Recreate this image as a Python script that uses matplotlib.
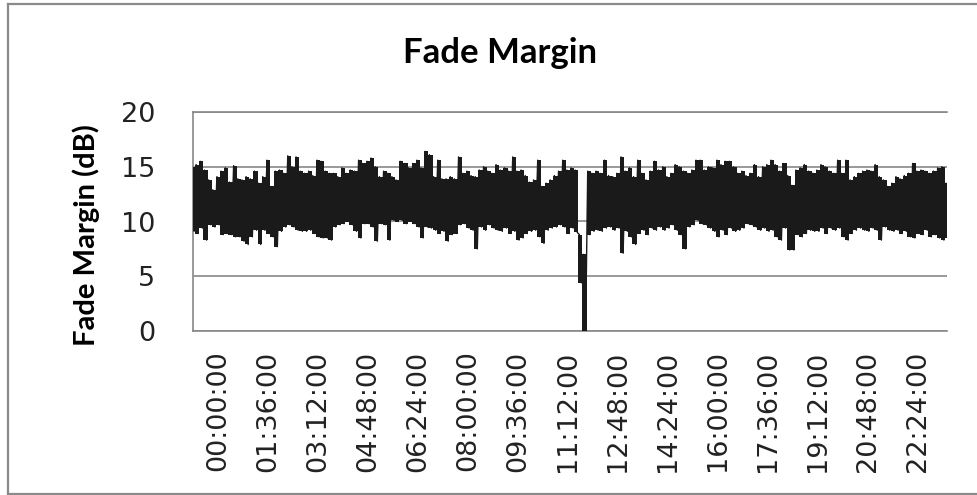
import matplotlib
matplotlib.use("Agg")
import matplotlib.pyplot as plt
from matplotlib.lines import Line2D

# ---- data (minutes relative to 00:00:00, sampled every 8 minutes) ----
start_min = -48
step_min = 8
hi = [15.0, 15.2, 15.5, 14.7, 13.8, 12.9, 14.1, 14.6, 14.9, 13.6,
      15.1, 13.9, 13.8, 14.1, 13.9, 14.6, 13.5, 14.1, 15.6, 13.2,
      14.6, 14.7, 14.4, 16.0, 15.0, 15.9, 14.6, 14.4, 14.6, 14.2,
      15.6, 15.5, 14.6, 14.4, 14.4, 14.1, 14.9, 14.4, 14.7, 14.6,
      15.6, 15.3, 15.5, 15.8, 15.0, 14.1, 14.6, 14.4, 14.1, 13.8,
      15.5, 15.3, 14.9, 15.3, 15.6, 14.9, 16.4, 16.1, 14.1, 15.6,
      13.9, 13.9, 14.1, 13.9, 15.9, 14.4, 14.6, 14.2, 14.1, 14.7,
      15.0, 14.6, 14.4, 15.2, 14.7, 14.9, 14.6, 15.9, 14.6, 14.7,
      14.2, 13.6, 13.8, 15.6, 13.2, 13.5, 13.8, 14.2, 14.6, 15.6,
      14.7, 14.9, 14.7, 8.8, 7.0, 14.6, 14.4, 14.6, 14.4, 15.6,
      14.2, 14.1, 14.4, 15.9, 14.6, 14.9, 14.1, 15.6, 14.4, 13.8,
      14.6, 15.5, 14.7, 15.0, 14.1, 14.4, 15.2, 15.0, 14.6, 14.4,
      14.7, 15.6, 15.6, 14.7, 15.0, 14.9, 15.6, 15.2, 15.5, 15.5,
      15.0, 14.4, 14.6, 14.2, 14.4, 15.2, 14.1, 15.0, 15.2, 15.6,
      15.2, 14.6, 15.3, 14.2, 13.3, 14.7, 14.9, 15.2, 14.6, 14.4,
      14.7, 15.2, 15.0, 14.6, 14.4, 15.6, 14.4, 15.6, 13.8, 14.1,
      14.4, 14.6, 14.7, 14.6, 15.2, 14.1, 13.8, 13.2, 13.5, 14.1,
      13.9, 14.2, 14.4, 15.3, 14.6, 14.7, 14.6, 14.4, 14.6, 14.9,
      15.0, 13.5]
lo = [9.1, 8.9, 9.4, 8.3, 9.7, 9.5, 9.7, 8.8, 8.9, 8.8,
      8.6, 8.6, 8.2, 7.9, 8.6, 9.2, 7.9, 9.2, 8.9, 8.6,
      7.7, 9.1, 9.5, 9.7, 9.5, 9.2, 9.1, 9.1, 9.2, 8.9,
      8.6, 8.5, 8.5, 8.3, 9.5, 9.7, 9.8, 10.0, 9.7, 9.1,
      8.5, 9.8, 9.8, 9.5, 8.2, 9.8, 9.7, 8.3, 10.1, 10.0,
      10.1, 9.8, 10.0, 9.8, 9.5, 8.5, 9.5, 9.4, 9.2, 8.9,
      9.1, 8.2, 8.8, 8.9, 9.7, 9.8, 9.4, 9.2, 7.5, 9.5,
      9.2, 9.7, 9.4, 9.2, 9.1, 9.4, 8.9, 9.1, 8.3, 8.5,
      8.9, 9.1, 9.2, 8.6, 8.0, 9.2, 9.4, 9.5, 9.7, 9.5,
      8.9, 9.4, 9.0, 4.4, 0.0, 8.8, 9.1, 9.2, 9.1, 9.4,
      9.5, 9.2, 9.4, 7.1, 9.1, 8.6, 7.9, 8.9, 9.2, 8.8,
      9.4, 9.2, 9.5, 9.2, 9.4, 9.7, 9.2, 8.8, 7.5, 9.5,
      9.7, 10.1, 9.8, 9.7, 9.4, 9.1, 8.6, 9.2, 8.8, 9.4,
      9.1, 9.2, 9.4, 9.8, 9.7, 9.5, 9.2, 9.4, 9.1, 9.2,
      8.6, 8.3, 9.4, 7.4, 7.4, 8.8, 8.6, 8.9, 9.2, 9.1,
      9.1, 9.4, 8.9, 9.4, 9.2, 9.4, 8.6, 8.3, 8.9, 9.2,
      9.4, 9.2, 9.1, 9.4, 9.2, 8.3, 9.5, 9.2, 9.1, 9.2,
      8.9, 9.1, 8.6, 8.5, 8.9, 8.8, 9.2, 8.6, 8.8, 8.5,
      8.3, 8.5]
tick_labels = ["00:00:00", "01:36:00", "03:12:00", "04:48:00", "06:24:00",
               "08:00:00", "09:36:00", "11:12:00", "12:48:00", "14:24:00",
               "16:00:00", "17:36:00", "19:12:00", "20:48:00", "22:24:00"]
tick_step_min = 96
title = "Fade Margin"
ylabel = "Fade Margin (dB)"
y_ticks = [0, 5, 10, 15, 20]

t = [start_min + i * step_min for i in range(len(hi))]

# zig-zag (max then min within each sample window) for spiky edges
xs, ys = [], []
for ti, h, l in zip(t, hi, lo):
    xs += [ti - step_min / 4, ti + step_min / 4]
    ys += [h, l]

W, H = 977, 495
fig = plt.figure(figsize=(W / 100, H / 100), dpi=100)
fig.patch.set_facecolor("white")

ax = fig.add_axes([193 / W, 1 - 331 / H, (947 - 193) / W, (331 - 112) / H])
line_c = "#1a1a1a"
ax.fill_between(t, lo, hi, step="mid", color=line_c, lw=0, zorder=3)
ax.plot(xs, ys, color=line_c, lw=1.0, zorder=3)

ax.set_xlim(start_min, t[-1])
ax.set_ylim(0, 20)
ax.set_yticks(y_ticks)
ax.set_xticks([k * tick_step_min for k in range(len(tick_labels))])
ax.set_xticklabels(tick_labels, rotation=90, fontsize=19.5,
                   family="DejaVu Sans", color="#222222")
ax.tick_params(axis="x", length=0, pad=14)
ax.tick_params(axis="y", length=0, pad=27, labelsize=19.5, labelcolor="#222222")
for lbl in ax.get_yticklabels():
    lbl.set_family("DejaVu Sans")

grid_c = "#888888"
ax.grid(axis="y", color=grid_c, lw=1.2, zorder=1)
ax.grid(axis="x", visible=False)
ax.spines["right"].set_visible(False)
for s in ["left", "bottom", "top"]:
    ax.spines[s].set_color(grid_c)
    ax.spines[s].set_linewidth(1.2)

fig.text(500 / W, 1 - 53 / H, title, ha="center", va="center",
         fontsize=25, fontweight="bold", family="Lato")
fig.text(86 / W, 1 - 235 / H, ylabel, ha="center", va="center", rotation=90,
         fontsize=21, fontweight="bold", family="Lato")

# outer chart border (left, top, bottom; right side cut off)
bc = "#8a8a8a"
fig.add_artist(Line2D([8 / W, 8 / W], [1 - 494 / H, 1 - 4 / H], color=bc, lw=1.6,
                      transform=fig.transFigure))
fig.add_artist(Line2D([8 / W, 1.0], [1 - 4 / H, 1 - 4 / H], color=bc, lw=1.6,
                      transform=fig.transFigure))
fig.add_artist(Line2D([8 / W, 1.0], [1 - 494 / H, 1 - 494 / H], color=bc, lw=1.6,
                      transform=fig.transFigure))

fig.savefig("out.png", dpi=100)
